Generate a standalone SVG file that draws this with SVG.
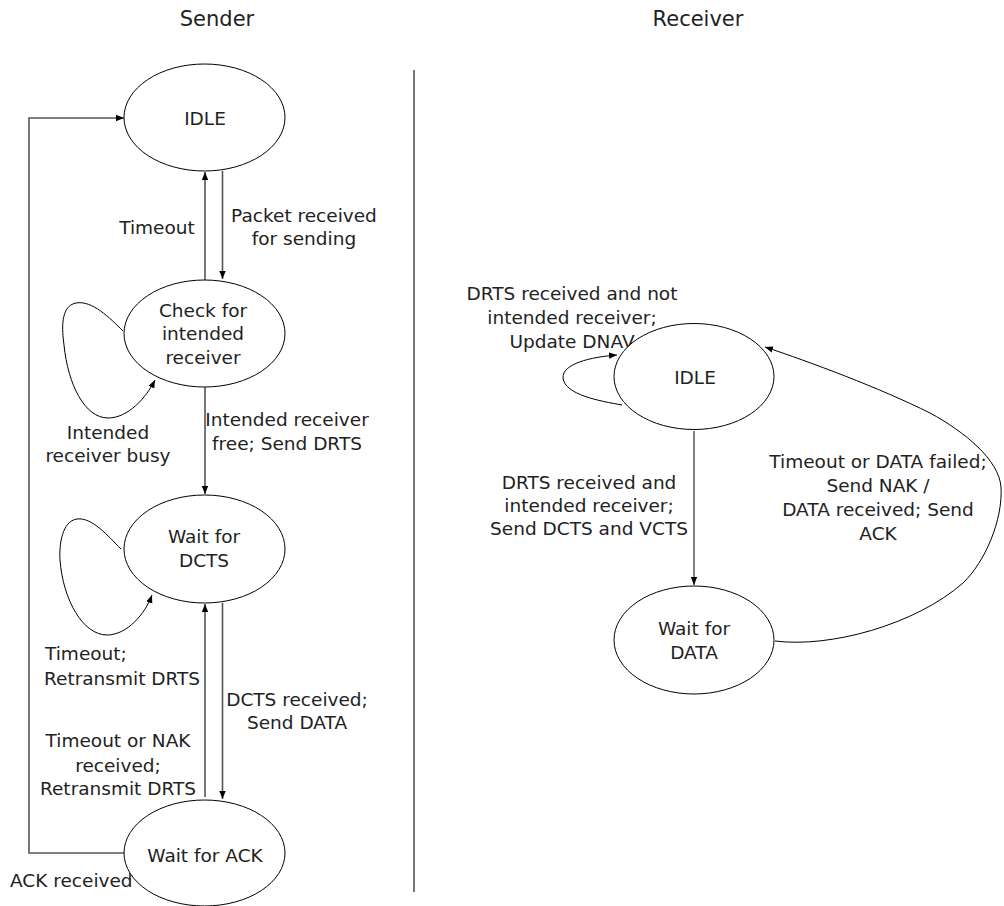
<svg xmlns="http://www.w3.org/2000/svg" width="1004" height="906" viewBox="0 0 1004 906">
  <defs>
    <marker id="arrow" viewBox="0 0 10 10" refX="10" refY="5" markerWidth="8" markerHeight="8" orient="auto" markerUnits="userSpaceOnUse">
      <path d="M0,1 L10,5 L0,9 z" fill="#000"/>
    </marker>
    <style>
      text { font-family: "DejaVu Sans", "Liberation Sans", sans-serif; font-size: 18.5px; fill: #222; }
      .mid { text-anchor: middle; }
      .start { text-anchor: start; }
      .title { font-size: 21px; text-anchor: middle; }
      .state { fill: #fff; stroke: #000; stroke-width: 1; }
      .line { fill: none; stroke: #555; stroke-width: 1.6; }
      .thin { fill: none; stroke: #000; stroke-width: 1; }
      .arr { marker-end: url(#arrow); }
    </style>
  </defs>

  <rect width="1004" height="906" fill="#fff"/>

  <!-- column titles and divider -->
  <text class="title" x="217" y="26">Sender</text>
  <text class="title" x="698" y="26">Receiver</text>
  <line x1="414" y1="70" x2="414" y2="892" stroke="#555" stroke-width="1.6"/>

  <!-- connectors -->
  <g id="connectors">
    <!-- sender -->
    <path class="line arr" d="M124,853 L29,853 L29,118 L124,118"/>
    <path class="line arr" d="M205,280 L205,172"/>
    <path class="line arr" d="M222.5,171 L222.5,279"/>
    <path class="thin arr" d="M123,331 C110,318 92,300 76,303 C60,306 62,330 64,345 C68,385 85,418 108,418 C128,418 146,398 155,380"/>
    <path class="line arr" d="M205,387 L205,494"/>
    <path class="thin arr" d="M121,549 C108,536 92,517 77,519 C62,521 59,545 60,560 C63,600 83,635 107,635 C127,635 145,614 152,595"/>
    <path class="line arr" d="M205,797 L205,604"/>
    <path class="line arr" d="M222.5,603 L222.5,799"/>
    <!-- receiver -->
    <path class="thin arr" d="M622,405 C600,401 565,395 563,378 C562,364 590,357 617,355"/>
    <path class="thin arr" d="M694,431 L694,585"/>
    <path class="thin arr" d="M775,641 C830,648 915,625 963,583 C985,562 1003,520 1001,487 C999,460 965,432 930,413 C880,388 810,362 765,347"/>
  </g>

  <!-- connector labels -->
  <g id="labels">
    <text class="mid" x="157" y="234">Timeout</text>
    <text class="mid" x="304" y="222">Packet received</text>
    <text class="mid" x="304" y="245">for sending</text>
    <text class="mid" x="108" y="439">Intended</text>
    <text class="mid" x="108" y="462">receiver busy</text>
    <text class="mid" x="287" y="426">Intended receiver</text>
    <text class="mid" x="287" y="450">free; Send DRTS</text>
    <text class="start" x="45" y="660">Timeout;</text>
    <text class="start" x="44" y="685">Retransmit DRTS</text>
    <text class="mid" x="297" y="706">DCTS received;</text>
    <text class="mid" x="297" y="729">Send DATA</text>
    <text class="mid" x="118" y="747">Timeout or NAK</text>
    <text class="mid" x="118" y="772">received;</text>
    <text class="mid" x="118" y="795">Retransmit DRTS</text>
    <text class="start" x="10" y="887">ACK received</text>

    <text class="mid" x="572" y="300">DRTS received and not</text>
    <text class="mid" x="572" y="324">intended receiver;</text>
    <text class="mid" x="572" y="348">Update DNAV</text>
    <text class="mid" x="589" y="489">DRTS received and</text>
    <text class="mid" x="589" y="512">intended receiver;</text>
    <text class="mid" x="589" y="535">Send DCTS and VCTS</text>
    <text class="mid" x="878" y="468">Timeout or DATA failed;</text>
    <text class="mid" x="878" y="492">Send NAK /</text>
    <text class="mid" x="878" y="516">DATA received; Send</text>
    <text class="mid" x="878" y="540">ACK</text>
  </g>

  <!-- sender states -->
  <g id="s-idle">
    <ellipse class="state" cx="204.5" cy="117.5" rx="80.5" ry="53.5"/>
    <text class="mid" x="205" y="125">IDLE</text>
  </g>
  <g id="s-check">
    <ellipse class="state" cx="204.5" cy="333.5" rx="80.5" ry="53.5"/>
    <text class="mid" x="203" y="317">Check for</text>
    <text class="mid" x="203" y="340">intended</text>
    <text class="mid" x="203" y="364">receiver</text>
  </g>
  <g id="s-wait-dcts">
    <ellipse class="state" cx="204.5" cy="549" rx="80.5" ry="54"/>
    <text class="mid" x="204" y="543">Wait for</text>
    <text class="mid" x="204" y="567">DCTS</text>
  </g>
  <g id="s-wait-ack">
    <ellipse class="state" cx="204.5" cy="853" rx="80.5" ry="53"/>
    <text class="mid" x="205" y="862">Wait for ACK</text>
  </g>

  <!-- receiver states -->
  <g id="r-idle">
    <ellipse class="state" cx="694" cy="376.5" rx="80" ry="53"/>
    <text class="mid" x="695" y="384">IDLE</text>
  </g>
  <g id="r-wait-data">
    <ellipse class="state" cx="694" cy="640" rx="80" ry="54"/>
    <text class="mid" x="694" y="635">Wait for</text>
    <text class="mid" x="694" y="659">DATA</text>
  </g>
</svg>
